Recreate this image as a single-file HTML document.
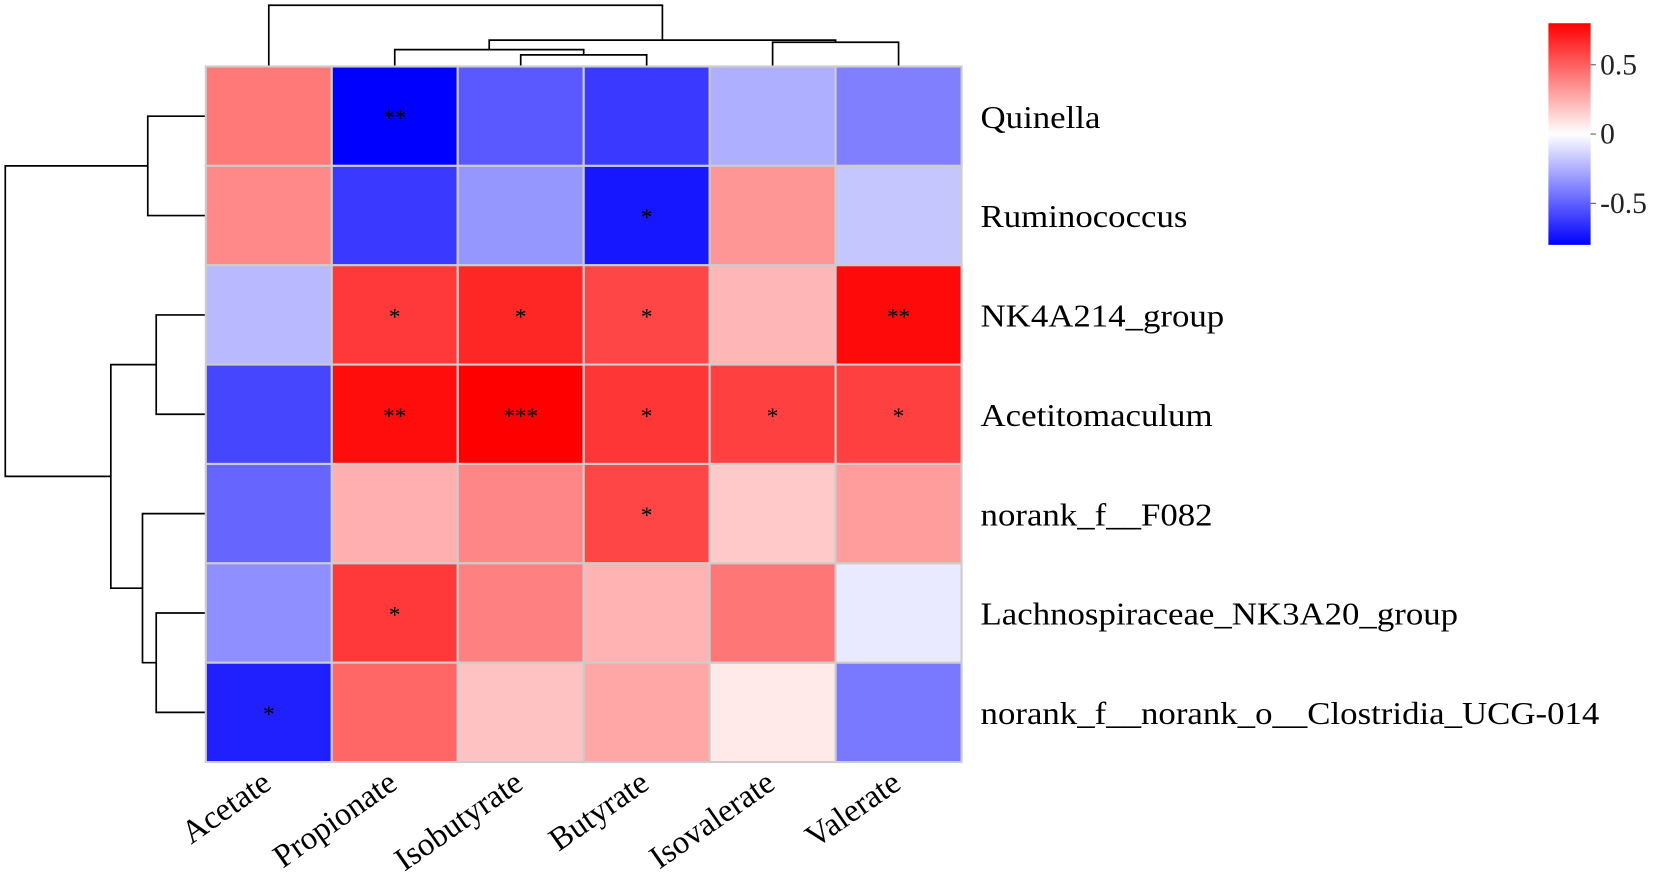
<!DOCTYPE html>
<html><head><meta charset="utf-8"><style>
html,body{margin:0;padding:0;background:#fff;}
svg{display:block;font-family:"Liberation Serif",serif;}
</style></head><body>
<svg id="chart" width="1655" height="875" viewBox="0 0 1568 829" preserveAspectRatio="none" xmlns="http://www.w3.org/2000/svg">
<defs><linearGradient id="cb" x1="0" y1="0" x2="0" y2="1">
<stop offset="0" stop-color="#ff0000"/><stop offset="0.5" stop-color="#ffffff"/><stop offset="1" stop-color="#0000ff"/></linearGradient></defs>
<g id="dendro" stroke="#000" stroke-width="1.6" fill="none"></g>
<g id="cells"></g>
<g id="labels"></g>
<g>
<rect x="1467" y="22" width="40" height="210" fill="url(#cb)"/>
<g id="cbticks"></g>
</g>
</svg>
<script>
const rows = ["Quinella","Ruminococcus","NK4A214_group","Acetitomaculum","norank_f__F082","Lachnospiraceae_NK3A20_group","norank_f__norank_o__Clostridia_UCG-014"];
const cols = ["Acetate","Propionate","Isobutyrate","Butyrate","Isovalerate","Valerate"];
const rQuinella = [0.42,-0.8,-0.52,-0.62,-0.25,-0.4];
const rRumino = [0.37,-0.62,-0.33,-0.73,0.33,-0.18];
const rNK4A214 = [-0.22,0.62,0.68,0.58,0.23,0.77];
const rAcetito = [-0.58,0.76,0.8,0.63,0.6,0.6];
const rF082 = [-0.48,0.25,0.38,0.58,0.17,0.31];
const rLachno = [-0.35,0.62,0.4,0.24,0.43,-0.07];
const rClostr = [-0.7,0.48,0.19,0.28,0.07,-0.42];
const values = [rQuinella,rRumino,rNK4A214,rAcetito,rF082,rLachno,rClostr];
const stars = [["","**","","","",""],["","","","*","",""],["","*","*","*","","**"],["","**","***","*","*","*"],["","","","*","",""],["","*","","","",""],["*","","","","",""]];
const cbTicks = [0.5,0,-0.5];
const vmax = 0.8;

const NS="http://www.w3.org/2000/svg";
const X0=195,X1=911,Y0=63,Y1=722;
const cw=(X1-X0)/cols.length, ch=(Y1-Y0)/rows.length;
const xc=i=>X0+cw*(i+0.5), yc=j=>Y0+ch*(j+0.5);
function color(v){v=Math.max(-1,Math.min(1,v/vmax));
  if(v>=0){const c=Math.round(255*(1-v));return `rgb(255,${c},${c})`;}
  const c=Math.round(255*(1+v));return `rgb(${c},${c},255)`;}
function mk(t,a,p){const e=document.createElementNS(NS,t);for(const k in a)e.setAttribute(k,a[k]);p.appendChild(e);return e;}
const cells=document.getElementById('cells'),labels=document.getElementById('labels');
values.forEach((row,j)=>row.forEach((v,i)=>{
  const r=mk('rect',{x:X0+i*cw,y:Y0+j*ch,width:cw,height:ch,fill:color(v),stroke:'#cccccc','stroke-width':2},cells);
  
  
  if(stars[j][i]){const t=mk('text',{x:xc(i),y:yc(j)+9,'text-anchor':'middle','font-size':22},cells);t.textContent=stars[j][i];
    
    }
}));
rows.forEach((n,j)=>{const t=mk('text',{x:929,y:yc(j)+11,'font-size':30,transform:'translate(929 0) scale(1.1 1) translate(-929 0)'},labels);t.textContent=n;
  
  });
cols.forEach((n,i)=>{const x=xc(i)+4,y=746;const t=mk('text',{x:x,y:y,'font-size':31,'text-anchor':'end',transform:`rotate(-35 ${x} ${y})`},labels);t.textContent=n;
  
  });
const cbt=document.getElementById('cbticks');
cbTicks.forEach(v=>{const y=22+210*(vmax-v)/(2*vmax);
  mk('line',{x1:1507,x2:1512,y1:y,y2:y,stroke:'#555'},cbt);
  const t=mk('text',{x:1516,y:y+9,'font-size':28,fill:'#222'},cbt);t.textContent=(v<0?'-':'')+Math.abs(v);
  
  });
const dg=document.getElementById('dendro');
function topLink(a,b,h,ha,hb){mk('path',{d:`M${a} ${ha}V${h}H${b}V${hb}`},dg);}
const tb=Y0;
topLink(xc(2),xc(3),52,tb,tb);
const m23=(xc(2)+xc(3))/2;
topLink(xc(1),m23,47,tb,52);
const m123=(xc(1)+m23)/2;
topLink(xc(4),xc(5),40,tb,tb);
const m45=(xc(4)+xc(5))/2;
topLink(m123,m45,38,47,40);
const mr=(m123+m45)/2;
topLink(xc(0),mr,5,tb,38);
function leftLink(a,b,x,xa,xb){mk('path',{d:`M${xa} ${a}H${x}V${b}H${xb}`},dg);}
const lb=X0;
leftLink(yc(0),yc(1),140,lb,lb);const lq=(yc(0)+yc(1))/2;
leftLink(yc(2),yc(3),148,lb,lb);const ln=(yc(2)+yc(3))/2;
leftLink(yc(5),yc(6),148,lb,lb);const ll=(yc(5)+yc(6))/2;
leftLink(yc(4),ll,135,lb,148);const lf=(yc(4)+ll)/2;
leftLink(ln,lf,105,148,135);const lg=(ln+lf)/2;
leftLink(lq,lg,5,140,105);
</script>
</body></html>
